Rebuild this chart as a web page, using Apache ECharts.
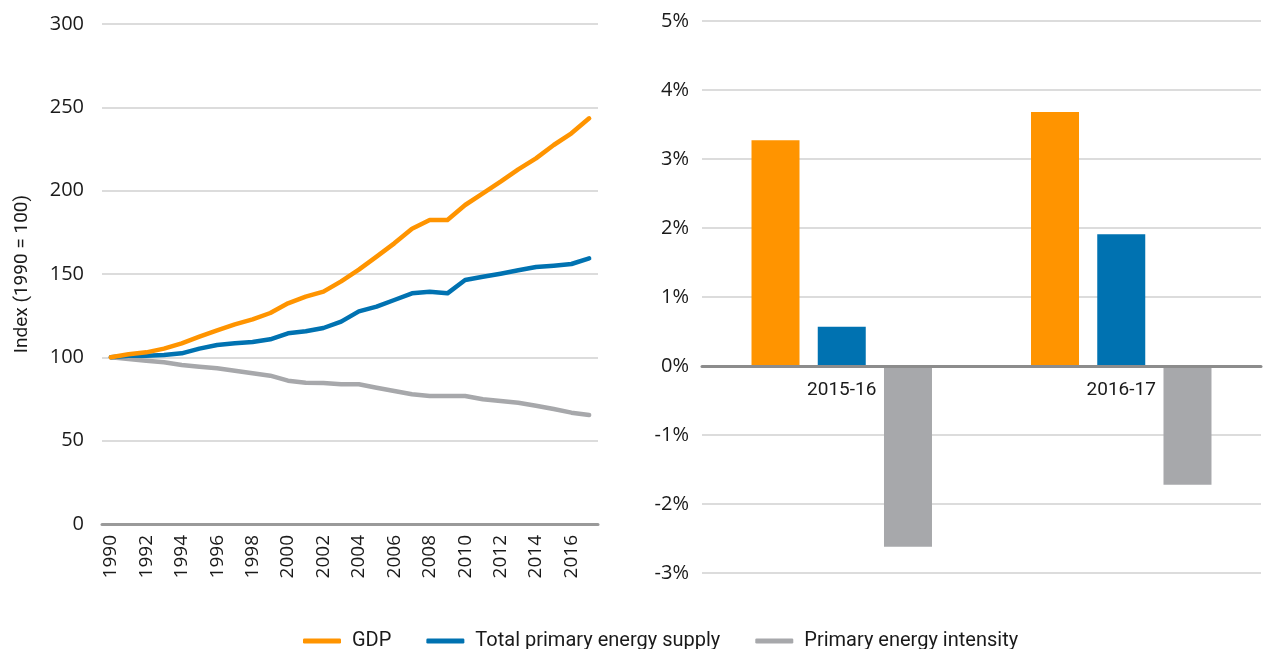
<!DOCTYPE html>
<html>
<head>
<meta charset="utf-8">
<script src="https://cdn.jsdelivr.net/npm/echarts@6/dist/echarts.min.js"></script>
<style>
  html, body { margin: 0; padding: 0; background: #fff; }
  #chart { width: 1263px; height: 649px; }
</style>
</head>
<body>
<div id="chart"></div>
<script>
// Annual index series, 1990 = 100
const years = ['1990','1991','1992','1993','1994','1995','1996','1997','1998','1999',
  '2000','2001','2002','2003','2004','2005','2006','2007','2008','2009',
  '2010','2011','2012','2013','2014','2015','2016','2017'];
const gdpIndex = [100, 101.8, 103, 105.2, 108.4, 112.4, 116.2, 119.8, 122.8, 126.6,
  132.4, 136.4, 139.4, 145.6, 152.6, 160.4, 168.4, 177.2, 182.4, 182.4,
  191.4, 198.4, 205.4, 212.8, 219.4, 227.4, 234.4, 243.4];
const tpesIndex = [100, 101, 101, 101.4, 102.4, 105.2, 107.4, 108.4, 109.2, 110.8,
  114.4, 115.6, 117.6, 121.4, 127.6, 130.4, 134.4, 138.4, 139.4, 138.4,
  146.4, 148.4, 150.2, 152.2, 154.2, 155, 156, 159.4];
const intensityIndex = [100, 99, 98, 97, 95.4, 94.4, 93.4, 92, 90.4, 89,
  86, 84.8, 84.6, 83.8, 83.8, 81.8, 79.8, 77.8, 76.8, 76.8,
  76.8, 74.8, 73.8, 72.8, 71, 69, 66.8, 65.4];

// Year-on-year change, percent
const periods = ['2015-16', '2016-17'];
const gdpChange = [3.27, 3.68];
const tpesChange = [0.57, 1.91];
const intensityChange = [-2.62, -1.72];

const names = ['GDP', 'Total primary energy supply', 'Primary energy intensity'];
const colors = ['#FF9400', '#0072B1', '#A7A8AB'];

const labelFont = 'Open Sans';
const textFont = 'Roboto';
const textColor = '#1a1a1a';

// right panel value range; the category axis is shifted up to sit on 0
const pctMin = -3, pctMax = 5;
const pctGridHeight = 552;
const zeroOffset = -pctGridHeight * (0 - pctMin) / (pctMax - pctMin);

const chart = echarts.init(document.getElementById('chart'), null, { renderer: 'canvas' });

const lineSeries = [gdpIndex, tpesIndex, intensityIndex].map((d, i) => ({
  name: names[i], type: 'line', xAxisIndex: 0, yAxisIndex: 0,
  data: d, showSymbol: false, symbol: 'none',
  lineStyle: { color: colors[i], width: 4.5, cap: 'round', join: 'round' },
  itemStyle: { color: colors[i] },
  z: 3 - i
}));

const barSeries = [gdpChange, tpesChange, intensityChange].map((d, i) => ({
  name: names[i], type: 'bar', xAxisIndex: 1, yAxisIndex: 1,
  data: d, barWidth: 48, barGap: '38%',
  itemStyle: { color: colors[i] }
}));

chart.setOption({
  animation: false,
  grid: [
    { left: 102, top: 24, width: 496, height: 500 },
    { left: 702, top: 21, right: 2, height: pctGridHeight }
  ],
  legend: {
    top: 626,
    left: 298,
    itemGap: 35,
    itemWidth: 38,
    itemHeight: 5,
    icon: 'roundRect',
    data: names.map((n, i) => ({ name: n, itemStyle: { color: colors[i] } })),
    textStyle: { fontFamily: textFont, fontSize: 20, color: textColor, padding: [0, 0, 0, 6] }
  },
  xAxis: [
    {
      type: 'category', gridIndex: 0, data: years, boundaryGap: true,
      axisLine: { lineStyle: { color: '#9a9a9a', width: 3 } },
      axisTick: { inside: true, length: 6, interval: 0, lineStyle: { color: '#cfcfcf', width: 1 } },
      axisLabel: { interval: 1, rotate: 90, fontFamily: labelFont, fontSize: 19, color: textColor, margin: 11 }
    },
    {
      type: 'category', gridIndex: 1, data: periods, position: 'bottom',
      offset: zeroOffset,
      axisLine: { onZero: false, lineStyle: { color: '#8c8c8c', width: 3 } },
      axisTick: { show: false },
      axisLabel: { fontFamily: textFont, fontSize: 19, color: textColor, margin: 15 },
      z: 5
    }
  ],
  yAxis: [
    {
      type: 'value', gridIndex: 0, min: 0, max: 300, interval: 50,
      name: 'Index (1990 = 100)', nameLocation: 'middle', nameGap: 70,
      nameTextStyle: { fontFamily: textFont, fontSize: 19, color: textColor },
      axisLine: { show: false }, axisTick: { show: false },
      axisLabel: { fontFamily: labelFont, fontSize: 20, color: textColor, margin: 18 },
      splitLine: { lineStyle: { color: '#dcdcdc', width: 2 } }
    },
    {
      type: 'value', gridIndex: 1, min: pctMin, max: pctMax, interval: 1,
      axisLine: { show: false }, axisTick: { show: false },
      axisLabel: { fontFamily: labelFont, fontSize: 20, color: textColor, margin: 13,
        formatter: v => v + '%' },
      splitLine: { lineStyle: { color: '#dcdcdc', width: 2 } }
    }
  ],
  series: lineSeries.concat(barSeries)
});
</script>
</body>
</html>
